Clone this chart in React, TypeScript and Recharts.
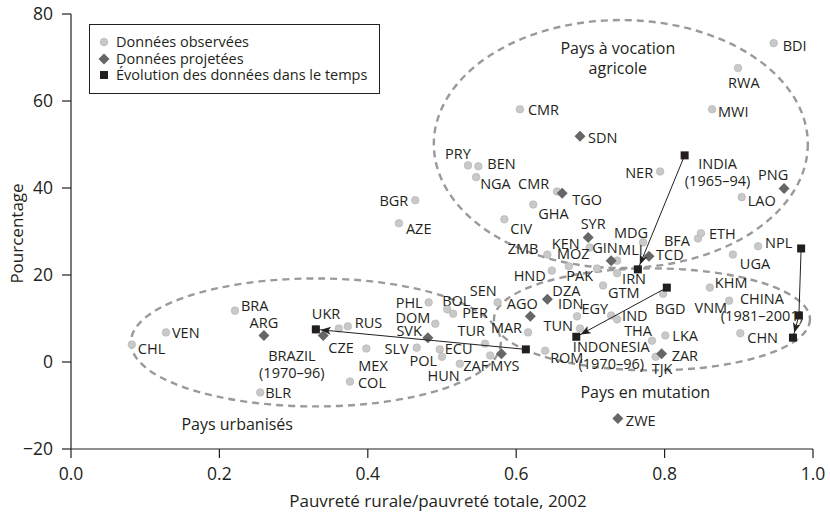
import React from 'react'
import { ScatterChart, Scatter, XAxis, YAxis, ReferenceDot, Legend, Label } from 'recharts'

const FONT = '"Open Sans", "Noto Sans", sans-serif'
const INK = '#231f20'
const DOT = '#c9c9c9'
const DIAMOND = '#666666'

type Pt = { name: string; x: number; y: number; key?: string }

// Données observées
const observed: Pt[] = [
  { name: 'BDI', x: 0.947, y: 73.3 },
  { name: 'RWA', x: 0.899, y: 67.6 },
  { name: 'MWI', x: 0.864, y: 58.1 },
  { name: 'CMR', x: 0.605, y: 58.1 },
  { name: 'PRY', x: 0.535, y: 45.2 },
  { name: 'BEN', x: 0.549, y: 45.0 },
  { name: 'NGA', x: 0.546, y: 42.5 },
  { name: 'CMR', key: 'CMR2', x: 0.655, y: 39.2 },
  { name: 'GHA', x: 0.623, y: 36.2 },
  { name: 'CIV', x: 0.584, y: 32.8 },
  { name: 'NER', x: 0.794, y: 43.8 },
  { name: 'LAO', x: 0.904, y: 37.9 },
  { name: 'BGR', x: 0.464, y: 37.2 },
  { name: 'AZE', x: 0.442, y: 31.9 },
  { name: 'MDG', x: 0.771, y: 27.5 },
  { name: 'BFA', x: 0.845, y: 28.4 },
  { name: 'ETH', x: 0.849, y: 29.6 },
  { name: 'NPL', x: 0.926, y: 26.6 },
  { name: 'UGA', x: 0.892, y: 24.7 },
  { name: 'KEN', x: 0.699, y: 26.3 },
  { name: 'ZMB', x: 0.642, y: 24.7 },
  { name: 'MOZ', x: 0.671, y: 22.0 },
  { name: 'HND', x: 0.648, y: 21.0 },
  { name: 'PAK', x: 0.709, y: 21.5 },
  { name: 'MLI', x: 0.736, y: 23.3 },
  { name: 'IRN', x: 0.736, y: 20.4 },
  { name: 'GTM', x: 0.717, y: 17.6 },
  { name: 'IDN', x: 0.682, y: 10.5 },
  { name: 'EGY', x: 0.728, y: 10.7 },
  { name: 'IND', x: 0.736, y: 9.8 },
  { name: 'TUN', x: 0.686, y: 7.7 },
  { name: 'THA', x: 0.783, y: 4.9 },
  { name: 'LKA', x: 0.801, y: 6.1 },
  { name: 'TJK', x: 0.788, y: 1.2 },
  { name: 'ROM', x: 0.639, y: 2.6 },
  { name: 'BGD', x: 0.798, y: 15.7 },
  { name: 'KHM', x: 0.861, y: 17.1 },
  { name: 'VNM', x: 0.887, y: 14.1 },
  { name: 'CHN', x: 0.902, y: 6.6 },
  { name: 'MAR', x: 0.616, y: 6.8 },
  { name: 'SEN', x: 0.575, y: 13.7 },
  { name: 'PHL', x: 0.482, y: 13.7 },
  { name: 'BOL', x: 0.507, y: 12.1 },
  { name: 'PER', x: 0.515, y: 11.1 },
  { name: 'DOM', x: 0.491, y: 8.8 },
  { name: 'TUR', x: 0.558, y: 4.2 },
  { name: 'ECU', x: 0.497, y: 2.9 },
  { name: 'POL', x: 0.5, y: 1.2 },
  { name: 'HUN', x: 0.524, y: -0.4 },
  { name: 'ZAF', x: 0.565, y: 1.5 },
  { name: 'SLV', x: 0.466, y: 3.3 },
  { name: 'MEX', x: 0.398, y: 3.1 },
  { name: 'COL', x: 0.376, y: -4.5 },
  { name: '', x: 0.361, y: 7.7 },
  { name: 'RUS', x: 0.373, y: 8.2 },
  { name: 'UKR', x: 0.33, y: 7.5 },
  { name: 'BRA', x: 0.221, y: 11.8 },
  { name: 'VEN', x: 0.128, y: 6.8 },
  { name: 'CHL', x: 0.082, y: 4.0 },
  { name: 'BLR', x: 0.255, y: -7.0 },
]

// Données projetées
const projected: Pt[] = [
  { name: 'SDN', x: 0.686, y: 51.9 },
  { name: 'TGO', x: 0.662, y: 38.8 },
  { name: 'PNG', x: 0.961, y: 39.9 },
  { name: 'SYR', x: 0.697, y: 28.6 },
  { name: 'GIN', x: 0.728, y: 23.3 },
  { name: 'TCD', x: 0.779, y: 24.3 },
  { name: 'DZA', x: 0.642, y: 14.4 },
  { name: 'AGO', x: 0.619, y: 10.5 },
  { name: 'ZAR', x: 0.796, y: 1.9 },
  { name: 'ZWE', x: 0.737, y: -13.0 },
  { name: 'ARG', x: 0.26, y: 6.1 },
  { name: 'CZE', x: 0.34, y: 6.1 },
  { name: 'SVK', x: 0.481, y: 5.6 },
  { name: 'MYS', x: 0.58, y: 1.9 },
]

// Évolution des données dans le temps
const india: Pt[] = [
  { name: 'INDIA\n(1965–94)', x: 0.827, y: 47.5 },
  { name: '', x: 0.764, y: 21.3 },
]
const brazil: Pt[] = [
  { name: '', x: 0.613, y: 2.9 },
  { name: 'BRAZIL\n(1970–96)', x: 0.33, y: 7.5 },
]
const indonesia: Pt[] = [
  { name: '', x: 0.803, y: 17.1 },
  { name: 'INDONESIA\n(1970–96)', x: 0.681, y: 5.8 },
]
const china: Pt[] = [
  { name: '', x: 0.984, y: 26.1 },
  { name: 'CHINA\n(1981–2001)', x: 0.981, y: 10.7 },
  { name: '', x: 0.973, y: 5.6 },
]

// groupes de pays (centre des ellipses, en unités des axes)
const zones = [
  { name: 'Pays à vocation\nagricole', x: 0.741, y: 50.1, tx: 0.737, ty: 69.9 },
  { name: 'Pays urbanisés', x: 0.33, y: 4.5, tx: 0.224, ty: -14.2 },
  { name: 'Pays en mutation', x: 0.783, y: 9.8, tx: 0.774, ty: -7.0 },
]
const zoneRadii: [number, number][] = [[187, 124], [185, 64], [158, 51]]

const xTicks = [0, 0.2, 0.4, 0.6, 0.8, 1]
const yTicks = [-20, 0, 20, 40, 60, 80]

// label offsets in px: dx, dy, anchor
const labelPos: Record<string, [number, number, 'start' | 'middle' | 'end']> = {
  BDI: [9, 2, 'start'], RWA: [-10, 15, 'start'], MWI: [6, 2, 'start'], CMR: [8, 0, 'start'],
  SDN: [8, 1, 'start'], PRY: [-23, -12, 'start'], BEN: [9, -3, 'start'], NGA: [4, 6, 'start'],
  CMR2: [-39, -8, 'start'], TGO: [10, 6, 'start'], GHA: [5, 9, 'start'], CIV: [6, 9, 'start'],
  NER: [-7, 1, 'end'], INDIA: [33, 8, 'middle'], PNG: [-26, -14, 'start'], LAO: [6, 3, 'start'],
  BGR: [-7, 0, 'end'], AZE: [7, 5, 'start'], SYR: [5, -14, 'middle'], MDG: [5, -10, 'end'],
  BFA: [-8, 2, 'end'], ETH: [8, 0, 'start'], NPL: [7, -4, 'start'], UGA: [7, 9, 'start'],
  KEN: [-10, -4, 'end'], ZMB: [-9, -6, 'end'], MOZ: [-12, -13, 'start'], GIN: [-19, -13, 'start'],
  MLI: [1, -11, 'start'], TCD: [7, -2, 'start'], HND: [-6, 5, 'end'], PAK: [-4, 7, 'end'],
  IRN: [5, 5, 'start'], GTM: [5, 7, 'start'], DZA: [5, -9, 'start'], IDN: [-19, -13, 'start'],
  EGY: [-3, -7, 'end'], IND: [5, -4, 'start'], TUN: [-7, -3, 'end'], THA: [0, -10, 'end'],
  LKA: [7, 0, 'start'], ZAR: [10, 2, 'start'], TJK: [-4, 12, 'start'], BGD: [-8, 15, 'start'],
  KHM: [5, -5, 'start'], VNM: [-2, 7, 'end'], CHINA: [-37, -17, 'middle'], CHN: [7, 4, 'start'],
  INDONESIA: [35, 10, 'middle'], AGO: [-8, -13, 'middle'], MAR: [-6, -5, 'end'], SEN: [-1, -12, 'end'],
  PHL: [-6, 0, 'end'], BOL: [-5, -9, 'start'], PER: [9, -1, 'start'], DOM: [-5, -6, 'end'],
  SVK: [-6, -7, 'end'], TUR: [0, -13, 'end'], ECU: [5, -1, 'start'], POL: [-5, 4, 'end'],
  HUN: [0, 12, 'end'], ZAF: [-2, 10, 'end'], MYS: [-11, 12, 'start'], ROM: [5, 7, 'start'],
  SLV: [-8, 1, 'end'], MEX: [-8, 17, 'start'], COL: [8, 1, 'start'], RUS: [7, -4, 'start'],
  UKR: [-4, -16, 'start'], CZE: [5, 12, 'start'], BRAZIL: [-24, 26, 'middle'], BRA: [6, -5, 'start'],
  ARG: [0, -13, 'middle'], VEN: [6, 0, 'start'], CHL: [6, 4, 'start'], BLR: [5, 0, 'start'],
  ZWE: [8, 2, 'start'],
}

const circle = (cx: number, cy: number) => (
  <circle cx={cx} cy={cy} r={3.8} fill={DOT} stroke="#b0b0b0" strokeWidth={0.6} />
)
const diamond = (cx: number, cy: number) => (
  <polygon points={`${cx},${cy - 5.5} ${cx + 5.5},${cy} ${cx},${cy + 5.5} ${cx - 5.5},${cy}`} fill={DIAMOND} />
)
const square = (cx: number, cy: number) => <rect x={cx - 4} y={cy - 4} width={8} height={8} fill={INK} />

function makeShape(marker: (cx: number, cy: number) => React.ReactNode) {
  return (props: any) => {
    const { cx, cy, payload } = props
    const name: string = payload?.name ?? ''
    const lines = name ? name.split('\n') : []
    const pos = labelPos[payload?.key ?? lines[0]] ?? [6, 0, 'start']
    return (
      <g>
        {lines.map((t, i) => (
          <text key={i} x={cx + pos[0]} y={cy + pos[1] + i * 17} textAnchor={pos[2]} dominantBaseline="central"
            fontSize={14.5} fontFamily={FONT} fill={INK}>{t}</text>
        ))}
        {marker(cx, cy)}
      </g>
    )
  }
}

function LegendBox() {
  const row = (icon: React.ReactNode, text: string) => (
    <div style={{ display: 'flex', alignItems: 'center', height: 16.5 }}>
      <svg width={24} height={16} style={{ flex: 'none' }}>{icon}</svg>
      <span>{text}</span>
    </div>
  )
  return (
    <div style={{ boxSizing: 'border-box', width: 291, height: 70, border: `1px solid ${INK}`, background: '#fff',
      padding: '9px 0 0 2px', fontFamily: FONT, fontSize: 14.5, color: INK, lineHeight: '16px' }}>
      {row(circle(12, 8), 'Données observées')}
      {row(diamond(12, 8), 'Données projetées')}
      {row(square(12, 8), 'Évolution des données dans le temps')}
    </div>
  )
}

const axisLine = { stroke: INK, strokeWidth: 1.2 }
const tickStyle = { fill: INK, fontSize: 17.5, fontFamily: FONT }
const evoLine = { stroke: INK, strokeWidth: 1, markerEnd: 'url(#arrowHead)' }

export default function App() {
  return (
    <div style={{ position: 'absolute', left: 0, top: 0, width: 830, height: 515, background: '#fff' }}>
      <svg width={0} height={0} style={{ position: 'absolute' }}>
        <defs>
          <marker id="arrowHead" markerUnits="userSpaceOnUse" markerWidth={12} markerHeight={10}
            refX={15} refY={4} orient="auto" overflow="visible">
            <path d="M0,0 L10,4 L0,8 L2.5,4 Z" fill={INK} />
          </marker>
        </defs>
      </svg>
      <ScatterChart width={830} height={515} margin={{ top: 14, right: 17, bottom: 0, left: 0 }}>
        <XAxis type="number" dataKey="x" domain={[0, 1]} ticks={xTicks} height={66}
          tickFormatter={(v: number) => v.toFixed(1)} tick={tickStyle} tickSize={9} tickMargin={10}
          axisLine={axisLine} tickLine={axisLine}>
          <Label content={({ viewBox }: any) => (
            <text x={viewBox.x + viewBox.width / 2 - 4} y={viewBox.y + 51} textAnchor="middle"
              dominantBaseline="central" fontSize={17} fontFamily={FONT} fill={INK}>
              Pauvreté rurale/pauvreté totale, 2002
            </text>
          )} />
        </XAxis>
        <YAxis type="number" dataKey="y" domain={[-20, 80]} ticks={yTicks} width={71}
          tickFormatter={(v: number) => (v < 0 ? `−${Math.abs(v)}` : `${v}`)} tick={tickStyle}
          tickSize={9} tickMargin={9} axisLine={axisLine} tickLine={axisLine}>
          <Label content={({ viewBox }: any) => {
            const x = viewBox.x + 16
            const y = viewBox.y + viewBox.height / 2 + 2
            return (
              <text x={x} y={y} transform={`rotate(-90 ${x} ${y})`} textAnchor="middle"
                dominantBaseline="central" fontSize={17} fontFamily={FONT} fill={INK}>Pourcentage</text>
            )
          }} />
        </YAxis>

        {zones.map((z, i) => (
          <ReferenceDot key={`e${i}`} x={z.x} y={z.y} r={0} ifOverflow="visible"
            shape={(p: any) => (
              <ellipse cx={p.cx} cy={p.cy} rx={zoneRadii[i][0]} ry={zoneRadii[i][1]} fill="none"
                stroke="#9a9a9a" strokeWidth={2.4} strokeDasharray="7 5" />
            )} />
        ))}
        {zones.map((z, i) => (
          <ReferenceDot key={`t${i}`} x={z.tx} y={z.ty} r={0} ifOverflow="visible"
            shape={(p: any) => {
              const lines = z.name.split('\n')
              return (
                <text x={p.cx} y={p.cy - (lines.length - 1) * 10} textAnchor="middle" dominantBaseline="central"
                  fontSize={16} fontFamily={FONT} fill={INK}>
                  {lines.map((t, j) => (
                    <tspan key={j} x={p.cx} dy={j === 0 ? 0 : 20}>{t}</tspan>
                  ))}
                </text>
              )
            }} />
        ))}

        <Scatter data={observed} shape={makeShape(circle)} isAnimationActive={false} />
        <Scatter data={projected} shape={makeShape(diamond)} isAnimationActive={false} />
        <Scatter data={india} line={evoLine} lineType="joint" shape={makeShape(square)} isAnimationActive={false} />
        <Scatter data={brazil} line={evoLine} lineType="joint" shape={makeShape(square)} isAnimationActive={false} />
        <Scatter data={indonesia} line={evoLine} lineType="joint" shape={makeShape(square)} isAnimationActive={false} />
        <Scatter data={china} line={evoLine} lineType="joint" shape={makeShape(square)} isAnimationActive={false} />

        <Legend layout="vertical" align="center" verticalAlign="middle"
          wrapperStyle={{ left: 89, top: 24, width: 291, height: 70 }} content={() => <LegendBox />} />
      </ScatterChart>
    </div>
  )
}
